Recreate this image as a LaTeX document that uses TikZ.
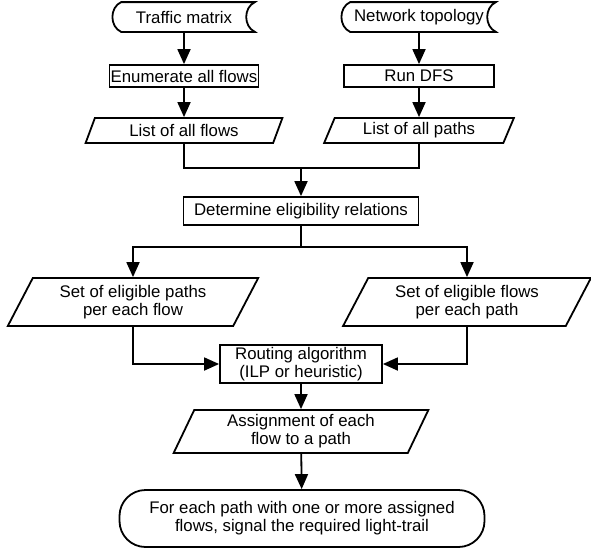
\documentclass[tikz,border=0pt]{standalone}
\usepackage{fontspec}
\setmainfont{Liberation Sans}
\usetikzlibrary{shapes.geometric}
\usetikzlibrary{arrows.meta}

\begin{document}
\begin{tikzpicture}[x=1pt,y=-1pt,line width=1.8pt]
\useasboundingbox (0,0) rectangle (591,550);
\begin{scope}[every node/.style={font=\fontsize{16.8}{18}\selectfont,align=center,inner sep=1pt},
              box/.style={draw,rectangle},
              store/.style={rectangle},
              io/.style n args={2}{draw,trapezium,trapezium stretches=true,
                  trapezium left angle=#1,trapezium right angle=#2},
              term/.style={draw,rectangle,rounded corners=26pt}]
    \node[store,minimum width=140pt,minimum height=28pt] (traffic) at (184,17) {Traffic matrix};
    \node[box,minimum width=149pt,minimum height=22pt] (enum) at (184,76) {Enumerate all flows};
    \node[io={68}{112},minimum width=197pt,minimum height=25pt] (flows) at (184,130.5) {List of all flows};
    \node[store,minimum width=152pt,minimum height=28pt] (topo) at (419,17) {Network topology};
    \node[box,minimum width=150pt,minimum height=22pt] (dfs) at (419,76) {Run DFS};
    \node[io={68}{112},minimum width=190pt,minimum height=25pt] (paths) at (419,130.5) {List of all paths};
    \node[box,minimum width=235pt,minimum height=28pt] (elig) at (301,211) {Determine eligibility relations};
    \node[io={62.5}{117.5},minimum width=251pt,minimum height=48pt] (setpaths) at (133,302) {Set of eligible paths\\per each flow};
    \node[io={62.5}{117.5},minimum width=248pt,minimum height=48pt] (setflows) at (467,302) {Set of eligible flows\\per each path};
    \node[box,minimum width=162pt,minimum height=38pt] (routing) at (301,364) {Routing algorithm\\(ILP or heuristic)};
    \node[io={68}{112},minimum width=255pt,minimum height=43pt] (assign) at (301,431.5) {Assignment of each\\flow to a path};
    \node[term,minimum width=365pt,minimum height=57pt] (signal) at (302,518.5) {For each path with one or more assigned\\flows, signal the required light-trail};
\end{scope}
% data inputs
\foreach \n in {traffic,topo}
    \draw ([xshift=8pt]\n.south west) to[out=155,in=205,looseness=1.1] ([xshift=8pt]\n.north west)
        -- (\n.north east) to[out=205,in=155,looseness=1.1] (\n.south east) -- cycle;
\coordinate (merge) at (301,168);
\coordinate (split) at (301,247);
\begin{scope}[>={Triangle[length=15pt,width=13pt]},
              flow/.style={draw=black,line width=1.8pt}]
    \path [->] (traffic) edge [flow] (enum);
    \path [->] (enum) edge [flow] (flows);
    \path [->] (topo) edge [flow] (dfs);
    \path [->] (dfs) edge [flow] (paths);
    \draw [flow] (flows) |- (merge) -| (paths);
    \path [->] (merge) edge [flow] (elig);
    \draw [flow] (elig) -- (split);
    \draw [flow,->] (split) -| (setpaths);
    \draw [flow,->] (split) -| (setflows);
    \draw [flow,->] (setpaths) |- (routing);
    \draw [flow,->] (setflows) |- (routing);
    \path [->] (routing) edge [flow] (assign);
    \path [->] (assign) edge [flow] (signal);
\end{scope}
\end{tikzpicture}
\end{document}
